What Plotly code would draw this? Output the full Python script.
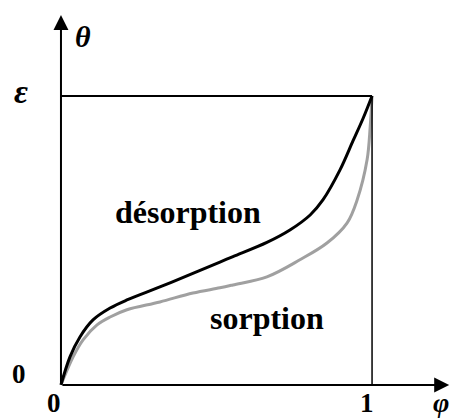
import plotly.graph_objects as go

# desorption curve (black)
des_phi = [0, 0.029, 0.061, 0.103, 0.158, 0.212, 0.318, 0.424, 0.511, 0.553,
           0.662, 0.736, 0.801, 0.842, 0.897, 0.939, 0.971, 1.0]
des_theta = [0, 0.097, 0.166, 0.225, 0.266, 0.294, 0.339, 0.386, 0.425, 0.444,
             0.493, 0.536, 0.588, 0.640, 0.744, 0.845, 0.922, 1.0]

# sorption curve (grey)
sor_phi = [0, 0.039, 0.071, 0.116, 0.158, 0.212, 0.318, 0.424, 0.511, 0.553,
           0.662, 0.768, 0.855, 0.920, 0.952, 0.984, 0.994, 1.0]
sor_theta = [0, 0.097, 0.156, 0.208, 0.235, 0.260, 0.287, 0.318, 0.336, 0.346,
             0.374, 0.433, 0.491, 0.561, 0.640, 0.779, 0.893, 1.0]

eps = 1.0
font = dict(family="Liberation Serif", color="black")

fig = go.Figure()
fig.add_trace(go.Scatter(x=sor_phi, y=sor_theta, mode="lines", line_shape="spline",
                         line=dict(color="#a0a0a0", width=3)))
fig.add_trace(go.Scatter(x=des_phi, y=des_theta, mode="lines", line_shape="spline",
                         line=dict(color="black", width=3)))

# box lines
fig.add_shape(type="line", x0=0, y0=eps, x1=1, y1=eps, line=dict(color="black", width=2))
fig.add_shape(type="line", x0=1, y0=0, x1=1, y1=eps, line=dict(color="black", width=1.5))

# axes with arrows
for (hx, hy) in [(1.248, 0), (0, 1.28)]:
    fig.add_annotation(x=hx, y=hy, ax=0, ay=0, xref="x", yref="y", axref="x", ayref="y",
                       text="", showarrow=True, arrowhead=2, arrowsize=1.5,
                       arrowwidth=2, arrowcolor="black")

labels = [
    ("<b><i>θ</i></b>", 0.071, 1.204, 30),
    ("<b><i>ε</i></b>", -0.129, 1.014, 34),
    ("<b>0</b>", -0.135, 0.038, 27),
    ("<b>0</b>", -0.023, -0.062, 27),
    ("<b>1</b>", 0.984, -0.062, 27),
    ("<b><i>φ</i></b>", 1.222, -0.06, 28),
    ("<b>désorption</b>", 0.408, 0.599, 32),
    ("<b>sorption</b>", 0.662, 0.232, 32),
]
for txt, x, y, size in labels:
    fig.add_annotation(x=x, y=y, xref="x", yref="y", text=txt, showarrow=False,
                       font=dict(size=size, **font), xanchor="center", yanchor="middle")

fig.update_layout(
    width=452, height=419,
    margin=dict(l=0, r=0, t=0, b=0),
    paper_bgcolor="white", plot_bgcolor="white",
    showlegend=False,
    xaxis=dict(range=[-0.196, 1.257], visible=False, fixedrange=True),
    yaxis=dict(range=[-0.118, 1.332], visible=False, fixedrange=True),
)

# page body has a default 8px margin; remove it so the figure fills the window
fig.write_html("out.html", config={"displayModeBar": False},
               post_script="document.body.style.margin='0';")
